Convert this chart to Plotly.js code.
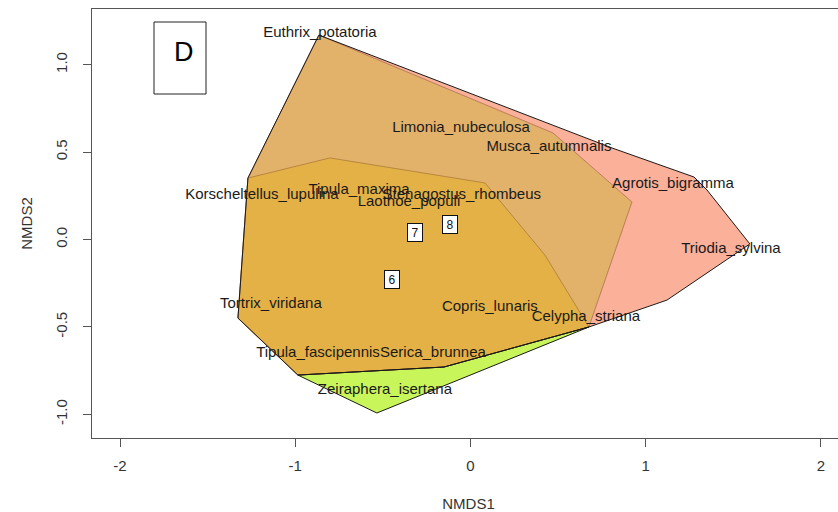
<!DOCTYPE html>
<html>
<head>
<meta charset="utf-8">
<script src="https://cdn.plot.ly/plotly-3.0.1.min.js"></script>
<style>html,body{margin:0;padding:0;overflow:hidden;background:#fff;}#chart{width:850px;height:512px;}</style>
</head>
<body>
<div id="chart"></div>
<script>
// Species scores (NMDS1, NMDS2)
var speciesNames = ["Euthrix_potatoria","Limonia_nubeculosa","Musca_autumnalis","Agrotis_bigramma","Triodia_sylvina",
  "Korscheltellus_lupulina","Tipula_maxima","Stenagostus_rhombeus","Laothoe_populi","Tortrix_viridana",
  "Tipula_fascipennis","Serica_brunnea","Zeiraphera_isertana","Copris_lunaris","Celypha_striana"];
var speciesX = [-0.859,-0.054,0.448,1.156,1.487,-1.190,-0.636,-0.049,-0.351,-1.139,-0.870,-0.214,-0.488,0.111,0.659];
var speciesY = [1.182,0.638,0.530,0.318,-0.054,0.255,0.284,0.255,0.215,-0.369,-0.649,-0.649,-0.860,-0.385,-0.442];

// Site group labels
var siteLabels = ["6","7","8"];
var siteX = [-0.445,-0.317,-0.117];
var siteY = [-0.231,0.043,0.086];

// Hull vertices
var salmonX = [-0.865,0.808,1.276,1.350,1.595,1.122,0.676,0.922,0.471];
var salmonY = [1.170,0.524,0.358,0.284,-0.025,-0.346,-0.500,0.215,0.610];
var tanX = [-1.270,-0.865,0.471,0.922,0.676,-0.151,-0.985,-1.327];
var tanY = [0.352,1.170,0.610,0.215,-0.500,-0.729,-0.775,-0.449];
var goldX = [-1.270,-0.802,0.083,0.425,0.676,-0.151,-0.985,-1.327];
var goldY = [0.352,0.467,0.324,-0.088,-0.500,-0.729,-0.775,-0.449];
var greenX = [-0.985,-0.534,0.676,-0.151];
var greenY = [-0.775,-0.992,-0.500,-0.729];

var xTicks = [-2,-1,0,1,2];
var yTicks = [-1,-0.5,0,0.5,1];
var yTickText = ["-1.0","-0.5","0.0","0.5","1.0"];

function closed(a){ return a.concat([a[0]]); }
function fillTrace(x,y,col){
  return {x:closed(x),y:closed(y),type:'scatter',mode:'lines',fill:'toself',fillcolor:col,
    line:{width:0,color:col},hoverinfo:'skip',showlegend:false};
}
function lineTrace(x,y,col){
  return {x:x,y:y,type:'scatter',mode:'lines',line:{width:1,color:col},hoverinfo:'skip',showlegend:false};
}

var traces = [
  fillTrace(salmonX,salmonY,'#FBB09A'),
  fillTrace(tanX,tanY,'#E2B16A'),
  fillTrace(goldX,goldY,'#E4B147'),
  fillTrace(greenX,greenY,'#C8F55A'),
  lineTrace(closed(tanX),closed(tanY),'rgba(165,95,60,0.7)'),
  lineTrace(closed(goldX),closed(goldY),'rgba(170,120,55,0.75)'),
  lineTrace(salmonX.slice(0,7),salmonY.slice(0,7),'#1a1a1a'),
  lineTrace(tanX.slice(0,2),tanY.slice(0,2),'#1a1a1a'),
  lineTrace(goldX.slice(4).concat([goldX[0]]),goldY.slice(4).concat([goldY[0]]),'#1a1a1a'),
  lineTrace(closed(greenX),closed(greenY),'#1a1a1a'),
  {x:speciesX,y:speciesY,text:speciesNames,type:'scatter',mode:'text',textposition:'middle center',
   textfont:{family:'Liberation Sans, Arial, sans-serif',size:15,color:'#1a1a1a'},hoverinfo:'skip',showlegend:false}
];

var annotations = siteLabels.map(function(t,i){
  return {x:siteX[i],y:siteY[i],xref:'x',yref:'y',text:t,showarrow:false,
    font:{family:'Liberation Sans, Arial, sans-serif',size:12,color:'#111'},
    bgcolor:'#ffffff',bordercolor:'#111',borderwidth:1,borderpad:1,width:12,height:15};
});
annotations.push({xref:'paper',yref:'paper',x:(184-92)/753,y:1-(52-9)/429,text:'D',showarrow:false,
  font:{family:'Liberation Sans, Arial, sans-serif',size:27,color:'#000'},xanchor:'center',yanchor:'middle'});

var layout = {
  width:850,height:512,
  margin:{l:92,r:5,t:9,b:74},
  paper_bgcolor:'#fff',plot_bgcolor:'#fff',
  font:{family:'Liberation Sans, Arial, sans-serif',color:'#333'},
  showlegend:false,
  xaxis:{range:[-2.160,2.138],tickvals:xTicks,ticktext:xTicks.map(String),ticks:'outside',ticklen:8,tickcolor:'#555',
    ticklabelstandoff:6,
    showline:true,linecolor:'#555',linewidth:1,mirror:true,showgrid:false,zeroline:false,
    tickfont:{size:15,color:'#333'},title:{text:'NMDS1',font:{size:15,color:'#333'},standoff:26}},
  yaxis:{range:[-1.135,1.319],tickvals:yTicks,ticktext:yTickText,tickangle:-90,ticks:'outside',ticklen:8,tickcolor:'#555',
    ticklabelstandoff:10,
    showline:true,linecolor:'#555',linewidth:1,mirror:true,showgrid:false,zeroline:false,
    tickfont:{size:15,color:'#333'},title:{text:'NMDS2',font:{size:15,color:'#333'},standoff:16}},
  shapes:[{type:'rect',xref:'paper',yref:'paper',x0:(154-92)/753,x1:(206-92)/753,y0:1-(94-9)/429,y1:1-(22-9)/429,
    line:{color:'#222',width:1},fillcolor:'rgba(0,0,0,0)'}],
  annotations:annotations
};

Plotly.newPlot('chart',traces,layout,{displayModeBar:false,staticPlot:true});
</script>
</body>
</html>
